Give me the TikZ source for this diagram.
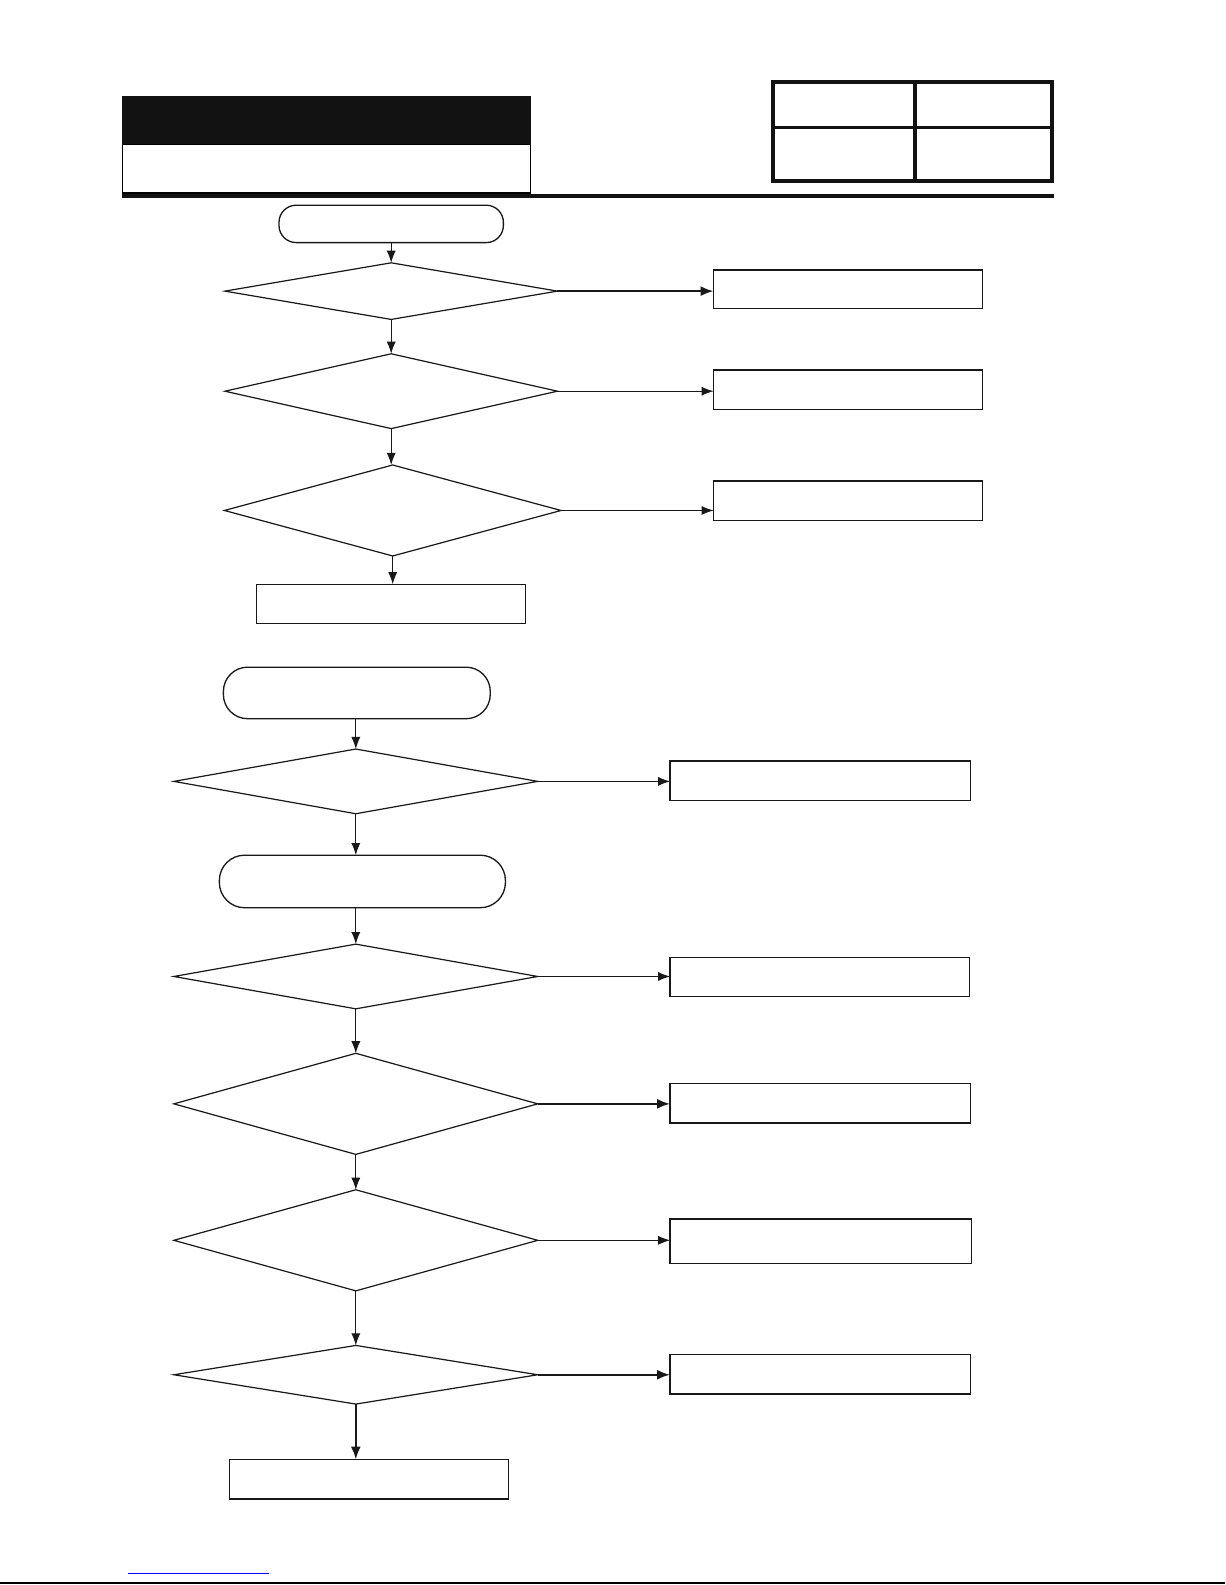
\documentclass[tikz,border=0pt]{standalone}
\usetikzlibrary{shapes.geometric,arrows.meta}
\begin{document}
\begin{tikzpicture}[x=1pt,y=-1pt,
  every node/.style={inner sep=0pt,outer sep=0pt},
  term/.style={draw=black!90,line width=1.3pt,rectangle,rounded corners=#1},
  dec/.style={draw=black!90,line width=1.2pt,diamond},
  proc/.style={draw=black!90,line width=1.4pt,rectangle},
  conn/.style={draw=black!90,line width=1.1pt,-{Latex[length=12pt,width=9pt]}},
  bold conn/.style={draw=black!90,line width=2.4pt,-{Latex[length=13pt,width=10pt]}}]
\useasboundingbox[fill=white] (0,0) rectangle (1212,1568);
% header
\node[fill=black!93,minimum width=404pt,minimum height=48pt] (hdr) at (323,119) {};
\node[draw=black,line width=1.5pt,minimum width=404pt,minimum height=48pt,anchor=north] (sub) at (hdr.south) {};
\draw[line width=3.5pt,black!93] (121,194) -- (1043,194);
\node[draw=black!93,line width=4pt,minimum width=276pt,minimum height=98pt] (tbl) at (903,130) {};
\draw[line width=3.5pt,black!93] (905,81) -- (905,179);
\draw[line width=3.5pt,black!93] (765,126) -- (1041,126);
% part 1
\node[term=17pt,minimum width=222pt,minimum height=37pt] (t1) at (387,221.5) {};
\node[dec,minimum width=329pt,minimum height=56pt] (d1) at (387,288) {};
\node[proc,minimum width=266pt,minimum height=38pt] (r1) at (839,286) {};
\node[dec,minimum width=329pt,minimum height=74pt] (d2) at (387,387) {};
\node[proc,minimum width=266pt,minimum height=39pt] (r2) at (839,385.5) {};
\node[dec,minimum width=333pt,minimum height=90pt] (d3) at (388.5,505) {};
\node[proc,minimum width=266pt,minimum height=39pt] (r3) at (839,495.5) {};
\node[proc,minimum width=266pt,minimum height=39pt] (b1) at (387,597.5) {};
\draw[conn] (t1.south) -- (d1.north);
\draw[bold conn] (d1.east) -- (r1.west |- d1.east);
\draw[conn] (d1.south) -- (d2.north);
\draw[conn] (d2.east) -- (r2.west |- d2.east);
\draw[conn] (d2.south) -- (d2.south |- d3.north);
\draw[conn] (d3.east) -- (r3.west |- d3.east);
\draw[conn] (d3.south) -- (d3.south |- b1.north);
% part 2
\node[term=24pt,minimum width=264pt,minimum height=51pt] (t2) at (353,685.5) {};
\node[dec,minimum width=360pt,minimum height=64pt] (d4) at (352,773) {};
\node[proc,minimum width=297pt,minimum height=39pt] (r4) at (811.5,772.5) {};
\node[term=25pt,minimum width=283pt,minimum height=52pt] (t3) at (358.5,872) {};
\node[dec,minimum width=360pt,minimum height=64pt] (d5) at (352,966) {};
\node[proc,minimum width=296pt,minimum height=39pt] (r5) at (811,966.5) {};
\node[dec,minimum width=360pt,minimum height=100pt] (d6) at (352,1092) {};
\node[proc,minimum width=297pt,minimum height=39pt] (r6) at (811.5,1091.5) {};
\node[dec,minimum width=360pt,minimum height=100pt] (d7) at (352,1227) {};
\node[proc,minimum width=298pt,minimum height=44pt] (r7) at (812,1228) {};
\node[dec,minimum width=360pt,minimum height=58pt] (d8) at (352,1360) {};
\node[proc,minimum width=297pt,minimum height=39pt] (r8) at (811.5,1359.5) {};
\node[proc,minimum width=276pt,minimum height=39pt] (b2) at (365,1463.5) {};
\draw[conn] (d4.north |- t2.south) -- (d4.north);
\draw[conn] (d4.east) -- (r4.west |- d4.east);
\draw[conn] (d4.south) -- (d4.south |- t3.north);
\draw[conn] (d5.north |- t3.south) -- (d5.north);
\draw[conn] (d5.east) -- (r5.west |- d5.east);
\draw[conn] (d5.south) -- (d6.north);
\draw[bold conn] (d6.east) -- (r6.west |- d6.east);
\draw[conn] (d6.south) -- (d7.north);
\draw[conn] (d7.east) -- (r7.west |- d7.east);
\draw[conn] (d7.south) -- (d8.north);
\draw[bold conn] (d8.east) -- (r8.west |- d8.east);
\draw[bold conn] (d8.south) -- (d8.south |- b2.north);
% footer
\draw[blue,line width=1pt] (127,1557) -- (266,1557);
\draw[black,line width=2pt] (0,1566) -- (1212,1566);
\end{tikzpicture}
\end{document}
